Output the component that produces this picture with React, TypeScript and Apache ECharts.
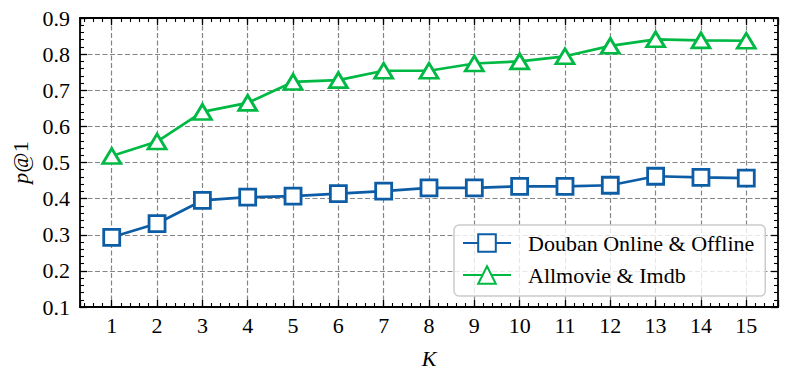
import React, { useEffect, useRef } from 'react';
import * as echarts from 'echarts';

const kValues = [1, 2, 3, 4, 5, 6, 7, 8, 9, 10, 11, 12, 13, 14, 15];
const doubanValues = [0.293, 0.331, 0.395, 0.404, 0.407, 0.414, 0.421, 0.430, 0.430, 0.434, 0.434, 0.437, 0.462, 0.459, 0.457];
const allmovieValues = [0.518, 0.558, 0.640, 0.665, 0.723, 0.728, 0.754, 0.754, 0.774, 0.780, 0.794, 0.823, 0.841, 0.838, 0.837];
const seriesNames = ['Douban Online & Offline', 'Allmovie & Imdb'];
const seriesColors = ['#0C5DA5', '#00B945'];

const FONT = 'Liberation Serif';

export default function App() {
  const ref = useRef<HTMLDivElement>(null);
  useEffect(() => {
    const chart = echarts.init(ref.current!, null, { renderer: 'svg' });
    const axisLine = { show: true, onZero: false, lineStyle: { color: '#000', width: 1.8 } };
    const axisTick = { show: true, inside: true, length: 7, lineStyle: { color: '#000', width: 1.3 } };
    const minorTick = { show: true, splitNumber: 5, length: 4, lineStyle: { color: '#000', width: 1.1 } };
    const splitLine = {
      show: true,
      showMinLine: false,
      showMaxLine: false,
      lineStyle: { color: '#858585', width: 1.2, type: [5, 2.5] },
    };
    const xBase = {
      type: 'value',
      min: 0.3,
      max: 15.7,
      splitNumber: 15,
      minInterval: 1,
      maxInterval: 1,
      axisLine,
      axisTick,
      minorTick,
    };
    const yBase = {
      type: 'value',
      min: 0.1,
      max: 0.9,
      interval: 0.1,
      axisLine,
      axisTick,
      minorTick,
    };
    chart.setOption({
      animation: false,
      backgroundColor: '#fff',
      grid: { left: 80, right: 11, top: 18, bottom: 73, containLabel: false },
      xAxis: [
        {
          ...xBase,
          position: 'bottom',
          splitLine,
          axisLabel: {
            fontFamily: FONT,
            fontSize: 22,
            color: '#000',
            margin: 7,
            formatter: (v: number) => (Number.isInteger(v) ? String(v) : ''),
          },
          name: 'K',
          nameLocation: 'middle',
          nameGap: 40,
          nameTextStyle: { fontFamily: FONT, fontStyle: 'italic', fontSize: 22, color: '#000' },
        },
        {
          ...xBase,
          position: 'top',
          splitLine: { show: false },
          axisLabel: { show: false },
        },
      ],
      yAxis: [
        {
          ...yBase,
          position: 'left',
          splitLine,
          axisLabel: {
            fontFamily: FONT,
            fontSize: 22,
            color: '#000',
            margin: 10,
            formatter: (v: number) => v.toFixed(1),
          },
          name: '{i|p}@1',
          nameLocation: 'middle',
          nameGap: 46,
          nameRotate: 90,
          nameTextStyle: {
            fontFamily: FONT,
            fontSize: 22,
            color: '#000',
            rich: { i: { fontFamily: FONT, fontSize: 22, fontStyle: 'italic', color: '#000' } },
          },
        },
        {
          ...yBase,
          position: 'right',
          splitLine: { show: false },
          axisLabel: { show: false },
        },
      ],
      legend: {
        orient: 'vertical',
        left: 454,
        top: 225,
        padding: [7, 11, 10, 8],
        itemWidth: 48,
        itemHeight: 22,
        itemGap: 10,
        backgroundColor: 'rgba(255,255,255,0.8)',
        borderColor: '#cccccc',
        borderWidth: 1.5,
        borderRadius: 5,
        textStyle: { fontFamily: FONT, fontSize: 22, color: '#000', padding: [0, 0, 0, 12] },
        data: seriesNames,
      },
      series: [
        {
          name: seriesNames[0],
          type: 'line',
          xAxisIndex: 0,
          yAxisIndex: 0,
          data: kValues.map((k, i) => [k, doubanValues[i]]),
          symbol: 'rect',
          symbolSize: 16,
          lineStyle: { color: seriesColors[0], width: 2.7 },
          itemStyle: { color: '#fff', borderColor: seriesColors[0], borderWidth: 2.8 },
          z: 3,
        },
        {
          name: seriesNames[1],
          type: 'line',
          xAxisIndex: 0,
          yAxisIndex: 0,
          data: kValues.map((k, i) => [k, allmovieValues[i]]),
          symbol: 'triangle',
          symbolSize: [18, 15],
          lineStyle: { color: seriesColors[1], width: 2.7 },
          itemStyle: { color: '#fff', borderColor: seriesColors[1], borderWidth: 2.8 },
          z: 3,
        },
      ],
    });
    return () => chart.dispose();
  }, []);
  return (
    <div
      ref={ref}
      style={{ position: 'fixed', left: 0, top: 0, width: 789, height: 380, background: '#fff' }}
    />
  );
}
